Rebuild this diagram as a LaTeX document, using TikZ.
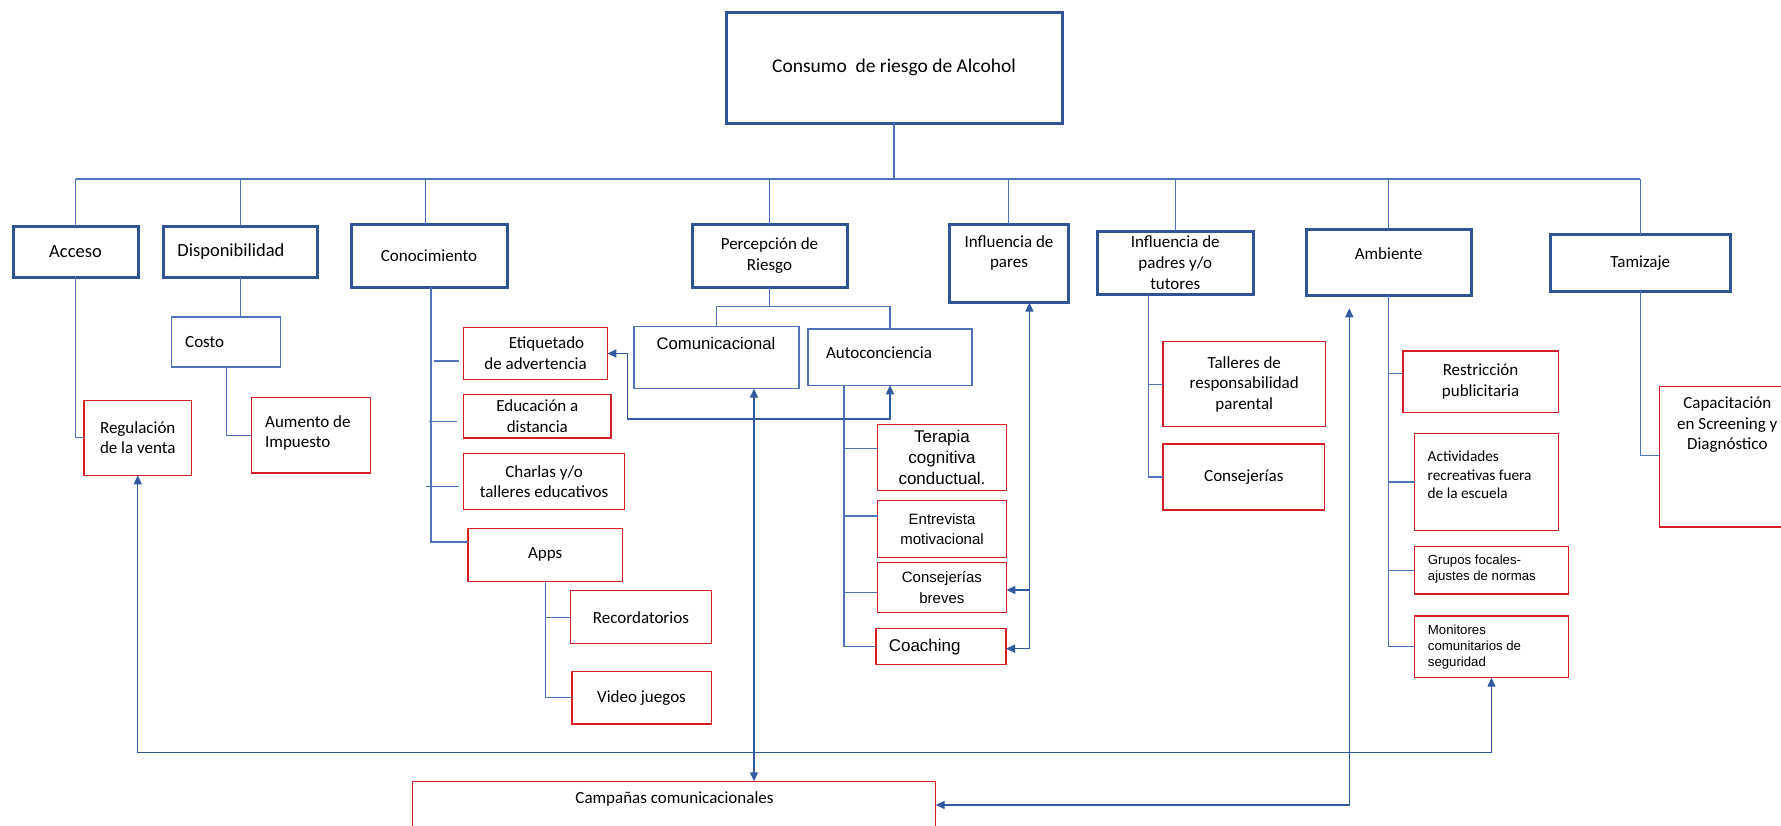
\documentclass[tikz,border=0pt]{standalone}
\usepackage{fontspec}
\setmainfont{Carlito}
\newfontfamily\arialf{Liberation Sans}
\usetikzlibrary{arrows.meta}
\definecolor{bdark}{RGB}{47,85,151}
\definecolor{bline}{RGB}{80,115,190}
\definecolor{barr}{RGB}{50,90,160}
\definecolor{rbox}{RGB}{214,30,36}
\tikzset{
  bx/.style={rectangle, inner sep=0pt, outer sep=0pt, align=center},
  l1/.style={bx, draw=bdark, line width=3pt},
  thinbox/.style={bx, draw=bline, line width=1.3pt},
  redbox/.style={bx, draw=rbox, line width=1.4pt},
  conn/.style={draw=bline, line width=1.2pt},
  arr/.style={draw=barr, line width=1.4pt, arrows={Triangle[length=9pt,width=8pt]-Triangle[length=9pt,width=8pt]}},
  arrone/.style={draw=barr, line width=1.4pt, arrows={-Triangle[length=9pt,width=8pt]}},
  txt/.style={inner sep=0pt, align=center},
  txl/.style={inner sep=0pt, align=left, anchor=west},
  fa/.style={font=\fontsize{19.5}{23}\selectfont},
  fb/.style={font=\fontsize{18.5}{22}\selectfont},
  fc/.style={font=\fontsize{17}{20.7}\selectfont},
  fd/.style={font=\fontsize{15.3}{18.5}\selectfont},
  aa/.style={font=\arialf\fontsize{17}{21}\selectfont},
  ab/.style={font=\arialf\fontsize{16.7}{20}\selectfont},
  ac/.style={font=\arialf\fontsize{15}{20.5}\selectfont},
  ad/.style={font=\arialf\fontsize{13.2}{16.2}\selectfont},
}
% box from corner (x1,y1) to (x2,y2): style, x1, y1, x2, y2, name, text
\newcommand\mkbx[7]{\node[#1, minimum width={(#4)-(#2)}, minimum height={(#5)-(#3)}] (#6) at ({((#2)+(#4))/2},{((#3)+(#5))/2}) {#7};}
\begin{document}
\begin{tikzpicture}[x=1pt,y=-1pt]
\useasboundingbox (0,0) rectangle (1781,825);
\fill[white] (0,0) rectangle (1781,825);

% ---------- boxes ----------
\mkbx{l1, fa}{726}{12}{1062}{123}{main}{Consumo~ de riesgo de Alcohol}
\mkbx{l1, fb}{13}{226}{138}{277}{acceso}{Acceso}
\mkbx{l1}{163}{226}{317.5}{277}{disp}{}
\mkbx{l1, fc}{351}{224}{507}{287}{conoc}{Conocimiento}
\mkbx{l1, fc}{692}{224}{847}{287}{percep}{Percepción de\\Riesgo}
\mkbx{l1}{949}{224}{1068.5}{302.7}{pares}{}
\mkbx{l1, fc}{1097}{231}{1253.5}{294.7}{padres}{Influencia de\\padres y/o\\tutores}
\mkbx{l1}{1306}{229}{1471}{295}{ambiente}{}
\mkbx{l1, fc}{1550}{234.7}{1730.6}{291}{tamizaje}{Tamizaje}

\mkbx{thinbox}{171.7}{317}{280.5}{367}{costo}{}
\mkbx{redbox, fc}{84}{400.3}{191.5}{475.3}{regul}{Regulación\\de la venta}
\mkbx{redbox}{251.6}{397.7}{370.5}{473}{aumento}{}

\mkbx{redbox, fc}{463.7}{327.7}{607.4}{379.3}{etiq}{\hspace*{22pt}Etiquetado\\de advertencia}
\mkbx{redbox, fc}{463.7}{394.7}{611}{438}{educ}{Educación a\\distancia}
\mkbx{redbox, fc}{463.7}{453.7}{624.4}{509.7}{charlas}{Charlas y/o\\talleres educativos}
\mkbx{redbox, fc}{468}{528.3}{622.3}{581.3}{apps}{Apps}
\mkbx{redbox, fc}{570.6}{590.7}{711.3}{643.7}{record}{Recordatorios}
\mkbx{redbox, fc}{571.8}{671.3}{711.3}{724}{video}{Video juegos}

\mkbx{thinbox}{634}{326.7}{799}{388.7}{comunic}{}
\mkbx{thinbox}{808}{329}{972}{385.3}{autocon}{}
\mkbx{redbox, aa}{877.7}{424.7}{1006.3}{490.3}{terapia}{Terapia\\cognitiva\\conductual.}
\mkbx{redbox, ac}{877.7}{500.7}{1006.3}{557.3}{entrev}{Entrevista\\motivacional}
\mkbx{redbox, ac}{877.3}{562.7}{1006.4}{612.3}{breves}{Consejerías\\breves}
\mkbx{redbox}{876}{628.7}{1006}{664.3}{coaching}{}

\mkbx{redbox, fc}{1163}{341.7}{1325.5}{426.7}{talleres}{Talleres de\\responsabilidad\\parental}
\mkbx{redbox, fc}{1163}{444}{1324.6}{510}{consej}{Consejerías}

\mkbx{redbox, fc}{1402.8}{351}{1558.3}{412.3}{restric}{Restricción\\publicitaria}
\mkbx{redbox}{1414.5}{433.7}{1558.7}{530.3}{activ}{}
\mkbx{redbox}{1414.5}{546.7}{1568.5}{594}{grupos}{}
\mkbx{redbox}{1414.5}{616}{1568.5}{677.7}{monitores}{}

\mkbx{redbox}{1659.5}{386.7}{1795}{527}{capacit}{}
\mkbx{redbox}{412.2}{781.3}{935.7}{850}{campanas}{}

% ---------- texts placed off-centre ----------
\node[txt, fb] (disp-t) at (231,252) {Disponibilidad};
\node[txt, fc] (pares-t) at (1009,253) {Influencia de\\pares};
\node[txt, fc] (ambiente-t) at (1388.5,254) {Ambiente};
\node[txl, fc] (costo-t) at (185,342) {Costo};
\node[txl, fc] (aumento-t) at (265,433) {Aumento de\\Impuesto};
\node[txt, ab] (comunic-t) at (716,343.3) {Comunicacional};
\node[txt, fc] (autocon-t) at (879,352.7) {Autoconciencia};
\node[txl, aa] (coaching-t) at (888.6,646.7) {Coaching};
\node[txl, fd] (activ-t) at (1427.5,474.8) {Actividades\\recreativas fuera\\de la escuela};
\node[txl, ad] (grupos-t) at (1427.7,569) {Grupos focales-\\ajustes de normas};
\node[txl, ad] (monitores-t) at (1427.7,647) {Monitores\\comunitarios de\\seguridad};
\node[txt, fc] (capacit-t) at (1727.3,424.8) {Capacitación\\en Screening y\\Diagnóstico};
\node[txt, fc] (campanas-t) at (674.5,799.3) {Campañas comunicacionales};

% ---------- tree connectors ----------
\coordinate (bus) at (0,179);
\draw[conn] (acceso.north |- bus) -- (tamizaje.north |- bus);
\foreach \n in {main.south, acceso.north, disp.north, percep.north, pares.north, padres.north, ambiente.north, tamizaje.north}
  \draw[conn] (\n) -- (\n |- bus);
\draw[conn] ([xshift=-3.6pt]conoc.north) -- ([xshift=-3.6pt]conoc.north |- bus);

\draw[conn] (acceso.south) |- (regul.west);
\draw[conn] (disp.south) -- (disp.south |- costo.north);
\draw[conn] (costo.south) |- (aumento.west);

\draw[conn] ([xshift=2pt]conoc.south) |- ([yshift=12.8pt]apps.west);
\draw[conn] ([shift={(-29.7,7.5)}]etiq.west) -- ++(25,0);
\draw[conn] ([shift={(-34.7,5)}]educ.west) -- ++(28,0);
\draw[conn] ([shift={(-37.7,5)}]charlas.west) -- ++(33,0);
\draw[conn] (apps.south) |- (video.west);
\draw[conn] (record.west) -- (record.west -| apps.south);

\coordinate (pj) at (0,306.7);
\draw[conn] (percep.south) -- (percep.south |- pj);
\draw[conn] (comunic.north) |- (autocon.north |- pj) -- (autocon.north);

\draw[conn] ([xshift=-46pt]autocon.south) |- (coaching.west);
\draw[conn] ([shift={(-33.7,-9.2)}]terapia.west) -- ([yshift=9.2pt]terapia.west);
\draw[conn] ([shift={(-33.7,-13)}]entrev.west) -- ([yshift=13pt]entrev.west);
\draw[conn] ([shift={(-33.3,5.2)}]breves.west) -- ([yshift=-5.2pt]breves.west);

\draw[conn] ([xshift=-26.8pt]padres.south) |- (consej.west);
\draw[conn] (talleres.west) -- ++(-14.8,0);

\draw[conn] (ambiente.south) |- (monitores.west);
\draw[conn] ([yshift=8pt]restric.west) -- ++(-14.3,0);
\draw[conn] (activ.west) -- ++(-26,0);
\draw[conn] (grupos.west) -- ++(-26,0);

\draw[conn] (tamizaje.south) |- ([yshift=1pt]capacit.west);

% ---------- arrows ----------
\coordinate (bb) at (0,752.7);
\draw[arr] (regul.south) -- (regul.south |- bb) -- (monitores.south |- bb) -- (monitores.south);
\draw[arr] ([xshift=37.5pt]comunic.south) -- ([xshift=37.5pt]comunic.south |- campanas.north);
\coordinate (cc) at (627.5,419);
\draw[arr] (etiq.east) -- (etiq.east -| cc) -- (cc) -- (autocon.south |- cc) -- (autocon.south);
\draw[arr] ([xshift=20.7pt]pares.south) |- ([yshift=-2.2pt]coaching.east);
\draw[arrone] ([xshift=20.7pt,yshift=-2.5pt]pares.south |- breves.east) -- ([yshift=-2.5pt]breves.east);
\coordinate (ambtip) at (1349.3,308.3);
\coordinate (ee) at (0,805);
\draw[arr] (ambtip) -- (ambtip |- ee) -- (campanas.east |- ee);
\end{tikzpicture}
\end{document}
